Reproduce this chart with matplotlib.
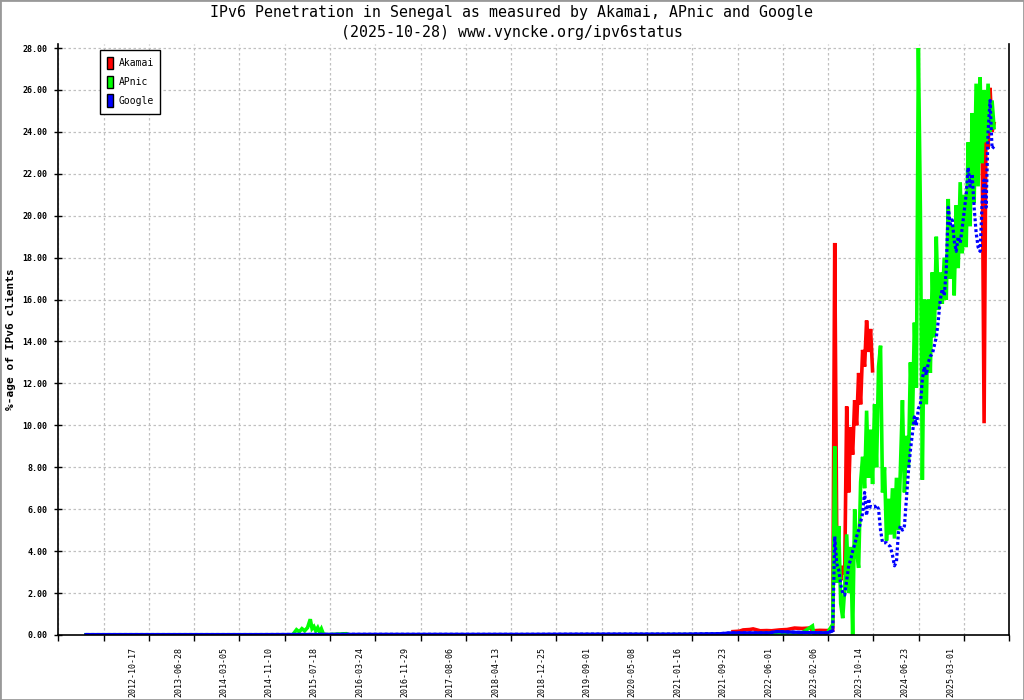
import numpy as np
import pandas as pd
import matplotlib
matplotlib.use("Agg")
import matplotlib.pyplot as plt
import matplotlib.dates as mdates
from matplotlib.patches import Patch, Rectangle

nan = np.nan

# flat years before the 2023 take-off (sparse points)
akamai_early_dates = ['2021-11-15', '2021-12-20', '2022-01-10', '2022-02-15', '2022-03-06',
                      '2022-04-14', '2022-05-20', '2022-06-16', '2022-07-30', '2022-09-10',
                      '2022-10-21', '2022-12-01', '2023-01-15', '2023-01-30', '2023-03-09',
                      '2023-04-20']
akamai_early = [0.16, 0.18, 0.24, 0.26, 0.29, 0.20, 0.21, 0.20, 0.24, 0.26,
                0.33, 0.31, 0.33, 0.20, 0.22, 0.21]

apnic_early_dates = ['2012-02-02', '2015-03-20', '2015-04-10', '2015-04-25', '2015-05-10',
                     '2015-05-25', '2015-06-10', '2015-06-25', '2015-07-05', '2015-07-15',
                     '2015-07-25', '2015-08-05', '2015-08-15', '2015-08-25', '2015-09-05',
                     '2015-09-20', '2016-01-10', '2016-01-25', '2019-06-01', '2021-06-01',
                     '2022-01-01', '2022-06-01', '2022-12-01', '2023-01-28', '2023-02-03',
                     '2023-04-20']
apnic_early = [0.01, 0.01, 0.25, 0.15, 0.30, 0.20, 0.35, 0.75, 0.30, 0.40,
               0.20, 0.35, 0.15, 0.30, 0.05, 0.01, 0.06, 0.01, 0.01, 0.02,
               0.05, 0.08, 0.10, 0.43, 0.10, 0.10]

google_early_dates = ['2012-02-02', '2013-06-01', '2014-09-01', '2016-01-01', '2017-06-01',
                      '2018-09-01', '2020-01-01', '2021-03-01', '2021-09-01', '2021-11-01',
                      '2022-06-01', '2022-07-15', '2022-12-01', '2023-04-20']
google_early = [0.02, 0.02, 0.02, 0.03, 0.03, 0.03, 0.04, 0.04, 0.06, 0.10,
                0.10, 0.16, 0.12, 0.10]

# from 2023-05-20 on, one reading every 11 days
late_start = '2023-05-20'
late_step = '11D'
akamai_late = [0.25, 18.7, 4.8, 3.0, 2.6, 3.3, 2.9, 10.9, 6.8, 9.9,
               8.6, 11.2, 10.0, 12.5, 11.0, 13.6, 12.8, 15.0, 13.5, 14.6,
               12.6] + [nan] * 54 + [24.0, 10.1, 25.5, 23.2, 26.1, 24.0, 24.4]
apnic_late = [0.5, 9.0, 2.5, 5.2, 1.5, 0.8, 2.2, 4.8, 2.0, 4.2,
              0.0, 6.0, 4.0, 3.2, 7.3, 8.5, 7.0, 10.7, 7.5, 9.8,
              7.2, 11.0, 8.0, 12.8, 13.8, 6.8, 8.0, 4.5, 6.5, 4.8,
              7.0, 4.6, 7.5, 5.0, 8.0, 11.2, 6.8, 9.5, 8.0, 13.0,
              10.0, 14.9, 11.8, 28.0, 20.3, 7.4, 16.0, 11.0, 16.0, 12.5,
              17.3, 14.2, 19.0, 15.5, 17.3, 15.8, 18.0, 16.0, 20.8, 17.0,
              19.5, 16.2, 20.5, 17.5, 21.6, 18.2, 21.0, 18.5, 23.5, 19.5,
              24.9, 20.6, 26.3, 21.4, 26.6, 22.5, 26.0, 23.5, 26.3, 24.0,
              25.5, 24.2]
google_late = [0.2, 4.7, 3.4, 3.1, 2.4, 2.0, 1.9, 2.6, 3.3, 3.6,
               4.0, 4.3, 4.7, 5.0, 5.4, 5.8, 6.8, 5.7, 6.5, 6.1,
               6.1, 6.1, 6.2, 6.0, 5.0, 4.4, 4.4, 4.4, 4.3, 4.2,
               3.8, 3.3, 3.5, 4.9, 5.2, 5.0, 5.2, 6.5, 7.8, 8.8,
               9.6, 10.4, 10.0, 10.8, 11.0, 12.2, 12.8, 12.4, 13.0, 13.3,
               13.4, 13.8, 14.2, 15.0, 16.0, 16.5, 16.2, 17.4, 20.4, 19.6,
               19.8, 18.8, 18.3, 19.0, 18.7, 19.4, 20.2, 21.0, 22.3, 21.4,
               22.0, 20.4, 19.2, 18.5, 18.3, 20.6, 21.7, 20.4, 24.0, 25.5,
               23.2, 23.3]

tick_labels = ['2012-10-17', '2013-06-28', '2014-03-05', '2014-11-10', '2015-07-18',
               '2016-03-24', '2016-11-29', '2017-08-06', '2018-04-13', '2018-12-25',
               '2019-09-01', '2020-05-08', '2021-01-16', '2021-09-23', '2022-06-01',
               '2023-02-06', '2023-10-14', '2024-06-23', '2025-03-01']

late_dates = pd.date_range(late_start, periods=len(google_late), freq=late_step)


def series(early_dates, early_vals, late_vals):
    d = list(pd.to_datetime(early_dates)) + list(late_dates)
    return pd.Series(list(early_vals) + list(late_vals), index=d)


akamai = series(akamai_early_dates, akamai_early, akamai_late)
apnic = series(apnic_early_dates, apnic_early, apnic_late)
google = series(google_early_dates, google_early, google_late)

mono = 'DejaVu Sans Mono'
fig = plt.figure(figsize=(10.24, 7), dpi=100)
ax = fig.add_axes([0.0569, 0.0929, 0.9287, 0.8445])

lw = 2.6
ax.plot(akamai.index, akamai.values, color='#ff0000', lw=lw, solid_joinstyle='miter')
ax.plot(apnic.index, apnic.values, color='#00ff00', lw=lw, solid_joinstyle='miter')
ax.plot(google.index, google.values, color='#0000ff', lw=2.3,
        linestyle=(0, (0.9, 0.8)), dash_capstyle='butt')
flat = google[google.index <= pd.Timestamp(late_start)]
ax.plot(flat.index, flat.values, color='#0000ff', lw=2.3)

xmin = mdates.date2num(pd.Timestamp('2011-09-02'))
xmax = mdates.date2num(pd.Timestamp('2026-01-19'))
ax.set_xlim(xmin, xmax)
ax.set_ylim(0, 28.2)

ax.set_xticks(np.linspace(xmin, xmax, 22))
ax.set_xticklabels([])
ax.set_xticks(mdates.date2num(pd.to_datetime(tick_labels)), tick_labels, minor=True)
ax.tick_params(axis='x', which='major', direction='out', length=4, width=1)
ax.tick_params(axis='x', which='minor', length=0, pad=8.5, labelrotation=90,
               labelsize=6)
ax.set_yticks(np.arange(0, 28.1, 2))
ax.set_yticklabels(['%.2f' % v for v in np.arange(0, 28.1, 2)])
ax.tick_params(axis='y', direction='inout', length=6, width=1, pad=5, labelsize=6)
for lab in ax.get_xticklabels(minor=True) + ax.get_yticklabels():
    lab.set_fontfamily(mono)
for lab in ax.get_yticklabels():
    lab.set_fontweight('bold')

ax.grid(True, which='major', color='#c0c0c0', linestyle=(0, (2, 2)), lw=0.9)
ax.set_axisbelow(True)
ax.spines['top'].set_visible(False)
for s in ['left', 'right', 'bottom']:
    ax.spines[s].set_linewidth(1.2)

ax.set_ylabel('%-age of IPv6 clients', fontfamily=mono, fontweight='bold',
              fontsize=8)
ax.yaxis.set_label_coords(-0.044, 0.5)

handles = [Patch(facecolor=c, edgecolor='black', lw=1)
           for c in ['#ff0000', '#00ff00', '#0000ff']]
leg = ax.legend(handles, ['Akamai', 'APnic', 'Google'], loc='upper left',
                bbox_to_anchor=(0.0438, 0.9895), borderaxespad=0, fancybox=False,
                framealpha=1, edgecolor='black', prop={'family': mono, 'size': 7},
                handlelength=0.6, handleheight=1.6, handletextpad=0.6,
                labelspacing=0.65, borderpad=0.7)
leg.get_frame().set_linewidth(1)

fig.text(0.5, 1 - 13 / 700, 'IPv6 Penetration in Senegal as measured by Akamai, APnic and Google',
         ha='center', va='center', fontfamily=mono, fontsize=10.7)
fig.text(0.5, 1 - 32 / 700, '(2025-10-28) www.vyncke.org/ipv6status',
         ha='center', va='center', fontfamily=mono, fontsize=10.7)

fig.patches.append(Rectangle((0, 0), 1, 1, transform=fig.transFigure, fill=False,
                             edgecolor='#999999', lw=2))

fig.savefig('out.png', dpi=100)
